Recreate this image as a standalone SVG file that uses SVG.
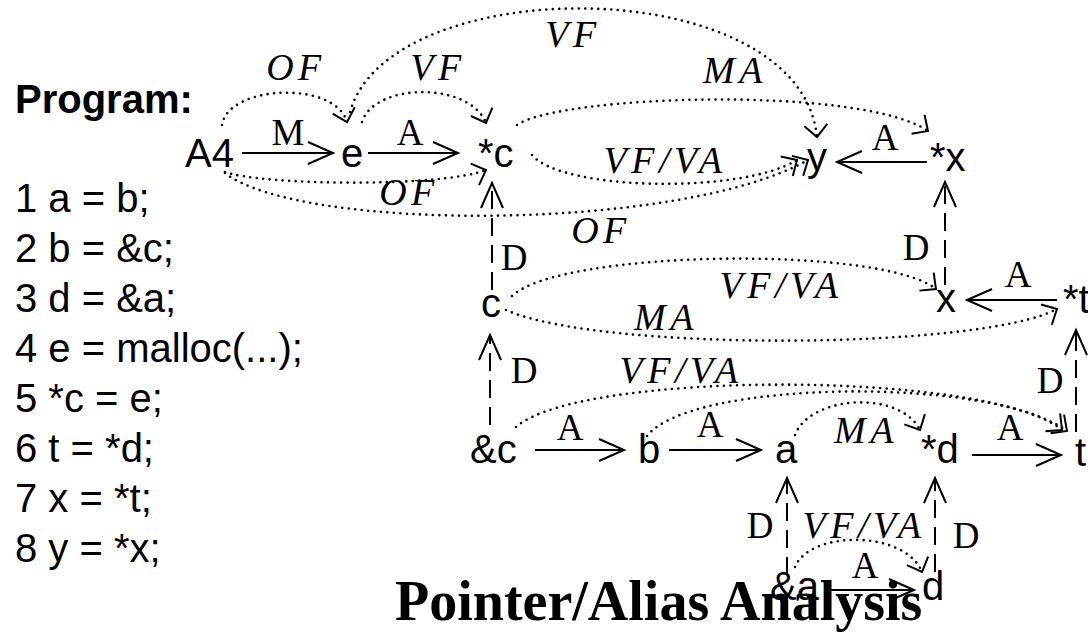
<svg xmlns="http://www.w3.org/2000/svg" width="1088" height="638" viewBox="0 0 1088 638">
<style>
.n{font-family:"Liberation Sans",Arial,sans-serif;font-size:40px;fill:#000}
.p{font-family:"Liberation Sans",Arial,sans-serif;font-size:40px;fill:#000}
.pb{font-family:"Liberation Sans",Arial,sans-serif;font-size:40px;font-weight:bold;fill:#000}
.l{font-family:"Liberation Serif","Times New Roman",serif;font-size:37px;fill:#000;text-anchor:middle}
.li{font-family:"Liberation Serif","Times New Roman",serif;font-size:38px;font-style:italic;letter-spacing:4.5px;fill:#000;text-anchor:middle}
.t{font-family:"Liberation Serif","Times New Roman",serif;font-size:56px;font-weight:bold;fill:#000}
.s{fill:none;stroke:#000;stroke-width:2;marker-end:url(#ah)}
.d{fill:none;stroke:#000;stroke-width:2;stroke-dasharray:18 9;marker-end:url(#ah)}
.o{fill:none;stroke:#000;stroke-width:2.6;stroke-dasharray:0 6.5;stroke-linecap:round;marker-end:url(#dh)}
</style>
<defs>
<marker id="ah" markerUnits="userSpaceOnUse" markerWidth="32" markerHeight="32" viewBox="-29 -16 32 32" refX="0" refY="0" orient="auto">
<path d="M-25,-11 L0,0 L-25,11" fill="none" stroke="#000" stroke-width="2"/>
</marker>
<marker id="dh" markerUnits="userSpaceOnUse" markerWidth="30" markerHeight="30" viewBox="-16 -15 30 30" refX="0" refY="0" orient="auto">
<path d="M-12,-11.5 L0,0 L-12,11.5" fill="none" stroke="#000" stroke-width="2"/>
</marker>
</defs>
<rect width="1088" height="638" fill="#fff"/>
<g id="program">
<text class="pb" x="15" y="113">Program:</text>
<text class="p" x="15" y="212">1 a = b;</text>
<text class="p" x="15" y="262">2 b = &amp;c;</text>
<text class="p" x="15" y="312">3 d = &amp;a;</text>
<text class="p" x="15" y="362">4 e = malloc(...);</text>
<text class="p" x="15" y="412">5 *c = e;</text>
<text class="p" x="15" y="462">6 t = *d;</text>
<text class="p" x="15" y="512">7 x = *t;</text>
<text class="p" x="15" y="562">8 y = *x;</text>
</g>
<g id="connectors">
<path class="s" d="M242,153 H333"/>
<path class="s" d="M368,153 H458"/>
<path class="s" d="M927,162 H837"/>
<path class="s" d="M1057,300 H967"/>
<path class="s" d="M535,450 H624"/>
<path class="s" d="M669,450 H761"/>
<path class="s" d="M972,455 H1061"/>
<path class="s" d="M824,590 H914"/>
<path class="d" d="M490,425 V335"/>
<path class="d" d="M492,290 V183"/>
<path class="d" d="M945,285 V182"/>
<path class="d" d="M1076,432 V330"/>
<path class="d" d="M787,575 V478"/>
<path class="d" d="M935,572 V478"/>
<path class="o" d="M222,125 C228,85 335,80 347,122"/>
<path class="o" d="M362,122 C375,82 470,82 486,123"/>
<path class="o" d="M350,112 C390,-30 800,-30 817,137"/>
<path class="o" d="M517,125 C560,95 860,85 928,131"/>
<path class="o" d="M532,155 C560,190 740,195 797,160"/>
<path class="o" d="M225,172 C260,185 440,188 486,170"/>
<path class="o" d="M225,173 C300,232 680,232 808,160"/>
<path class="o" d="M512,296 C560,250 880,245 936,289"/>
<path class="o" d="M506,310 C600,352 980,350 1057,309"/>
<path class="o" d="M516,427 C580,370 990,370 1062,430"/>
<path class="o" d="M647,436 C690,380 990,375 1067,431"/>
<path class="o" d="M795,435 C810,395 900,390 920,430"/>
<path class="o" d="M795,567 C810,530 905,530 922,572"/>
<text class="l" x="288" y="145">M</text>
<text class="l" x="410" y="145">A</text>
<text class="li" x="296" y="80">OF</text>
<text class="li" x="438" y="80">VF</text>
<text class="li" x="573" y="47">VF</text>
<text class="li" x="735" y="83">MA</text>
<text class="li" x="665" y="173">VF/VA</text>
<text class="l" x="885" y="150">A</text>
<text class="li" x="409" y="205">OF</text>
<text class="li" x="601" y="243">OF</text>
<text class="l" x="514" y="270">D</text>
<text class="l" x="916" y="260">D</text>
<text class="li" x="781" y="298">VF/VA</text>
<text class="li" x="666" y="330">MA</text>
<text class="l" x="1018" y="287">A</text>
<text class="l" x="524" y="383">D</text>
<text class="li" x="681" y="383">VF/VA</text>
<text class="l" x="1050" y="393">D</text>
<text class="l" x="570" y="440">A</text>
<text class="l" x="710" y="437">A</text>
<text class="li" x="866" y="443">MA</text>
<text class="l" x="1010" y="440">A</text>
<text class="l" x="760" y="538">D</text>
<text class="li" x="864" y="538">VF/VA</text>
<text class="l" x="966" y="548">D</text>
<text class="l" x="865" y="578">A</text>
</g>
<g id="node-A4"><text class="n" x="185" y="167">A4</text></g>
<g id="node-e"><text class="n" x="341" y="167">e</text></g>
<g id="node-star-c"><text class="n" x="478" y="167">*c</text></g>
<g id="node-y"><text class="n" x="807" y="171">y</text></g>
<g id="node-star-x"><text class="n" x="930" y="171">*x</text></g>
<g id="node-c"><text class="n" x="481" y="317">c</text></g>
<g id="node-x"><text class="n" x="936" y="312">x</text></g>
<g id="node-star-t"><text class="n" x="1063" y="313">*t</text></g>
<g id="node-amp-c"><text class="n" x="470" y="463">&amp;c</text></g>
<g id="node-b"><text class="n" x="638" y="463">b</text></g>
<g id="node-a"><text class="n" x="775" y="463">a</text></g>
<g id="node-star-d"><text class="n" x="921" y="463">*d</text></g>
<g id="node-t"><text class="n" x="1075" y="466">t</text></g>
<g id="node-amp-a"><text class="n" x="770" y="600">&amp;a</text></g>
<g id="node-d"><text class="n" x="922" y="600">d</text></g>
<g id="title"><text class="t" x="395" y="620">Pointer/Alias Analysis</text></g>
</svg>
